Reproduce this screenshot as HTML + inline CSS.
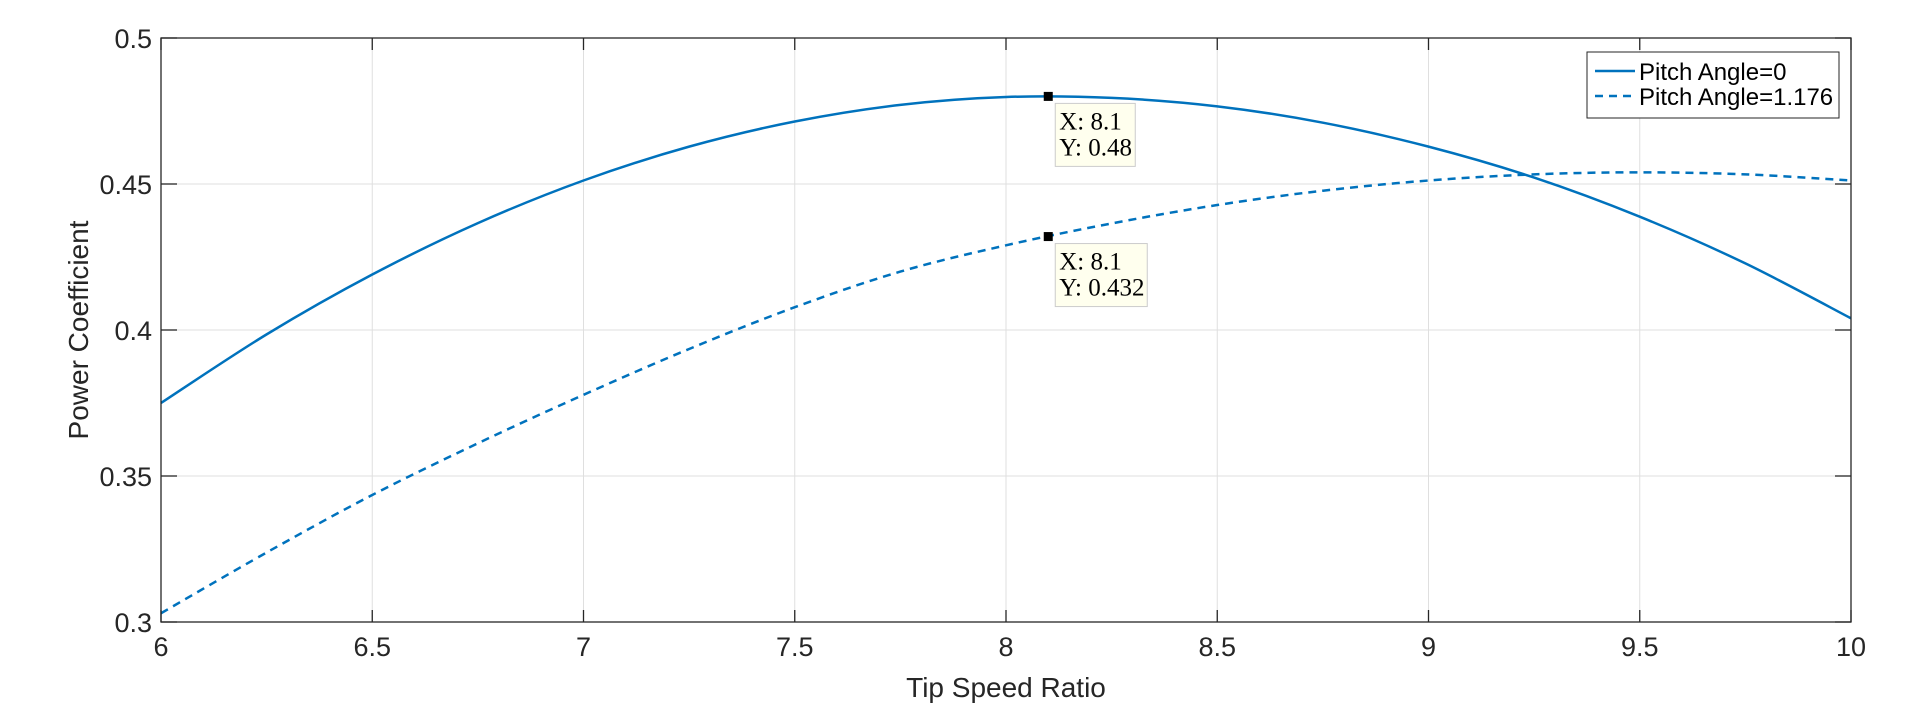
<!DOCTYPE html>
<html><head><meta charset="utf-8"><style>
html,body{margin:0;padding:0;background:#fff;}
svg{display:block;font-family:"Liberation Sans",sans-serif;}
</style></head><body>
<svg id="chart" width="1920" height="704" viewBox="0 0 1920 704" xmlns="http://www.w3.org/2000/svg">
<rect x="0" y="0" width="1920" height="704" fill="#fff"/>
<g id="grid"></g>
<g id="series"></g>
<rect x="161" y="38" width="1690" height="584" fill="none" stroke="#262626" stroke-width="1.3"/>
<g id="ticks"></g>
<text x="1006" y="697" font-size="28" fill="#262626" text-anchor="middle">Tip Speed Ratio</text>
<text transform="translate(88,330) rotate(-90)" font-size="28" fill="#262626" text-anchor="middle">Power Coefficient</text>
<g>
<rect x="1587" y="52" width="252" height="66" fill="#fff" stroke="#262626" stroke-width="1"/>
<line x1="1595" y1="71" x2="1635" y2="71" stroke="#0072BD" stroke-width="2.5"/>
<text x="1639" y="80" font-size="24" fill="#000">Pitch Angle=0</text>
<line x1="1595" y1="96" x2="1635" y2="96" stroke="#0072BD" stroke-width="2.5" stroke-dasharray="8,6"/>
<text x="1639" y="105" font-size="24" fill="#000">Pitch Angle=1.176</text>
</g>
<g id="tips"></g>
</svg>
<script>
const xs = [6,6.25,6.5,6.75,7,7.25,7.5,7.75,8,8.25,8.5,8.75,9,9.25,9.5,9.75,10];
const cpPitch0 = [0.375,0.3985,0.419,0.4366,0.4512,0.4628,0.4714,0.4771,0.4798,0.4795,0.4766,0.4710,0.4628,0.4522,0.4388,0.4228,0.404];
const cpPitch1176 = [0.303,0.3238,0.3435,0.3612,0.3778,0.3935,0.4078,0.4200,0.4290,0.4365,0.4428,0.4477,0.4512,0.4533,0.454,0.4533,0.4512];
const xTicks = [6,6.5,7,7.5,8,8.5,9,9.5,10];
const xTickLabels = ["6","6.5","7","7.5","8","8.5","9","9.5","10"];
const yTicks = [0.3,0.35,0.4,0.45,0.5];
const yTickLabels = ["0.3","0.35","0.4","0.45","0.5"];
const tipX = [8.1, 8.1];
const tipY = [0.48, 0.432];
const tipLabelY = ["0.48","0.432"];

const L=161,R=1851,T=38,B=622;
const sx=v=>L+(v-6)/(10-6)*(R-L);
const sy=v=>B-(v-0.3)/(0.5-0.3)*(B-T);
const NS="http://www.w3.org/2000/svg";
function mk(tag,attrs,parent){const e=document.createElementNS(NS,tag);for(const k in attrs)e.setAttribute(k,attrs[k]);parent.appendChild(e);return e;}
const grid=document.getElementById('grid'),ticks=document.getElementById('ticks'),series=document.getElementById('series'),tips=document.getElementById('tips');
xTicks.forEach((v,i)=>{
  const x=sx(v);
  if(i>0&&i<xTicks.length-1){const g=mk('line',{x1:x,y1:T,x2:x,y2:B,stroke:'#dfdfdf','stroke-width':1},grid);
  
  }
  const t1=mk('line',{x1:x,y1:B,x2:x,y2:B-12,stroke:'#262626','stroke-width':1.3},ticks);
  
  
  const t2=mk('line',{x1:x,y1:T,x2:x,y2:T+12,stroke:'#262626','stroke-width':1.3},ticks);
  
  
  const tx=mk('text',{x:x,y:B+34,'font-size':27,fill:'#262626','text-anchor':'middle'},ticks);
  tx.textContent=xTickLabels[i];
  
  
});
yTicks.forEach((v,i)=>{
  const y=sy(v);
  if(i>0&&i<yTicks.length-1){const g=mk('line',{x1:L,y1:y,x2:R,y2:y,stroke:'#dfdfdf','stroke-width':1},grid);
  
  }
  const t1=mk('line',{x1:L,y1:y,x2:L+16,y2:y,stroke:'#262626','stroke-width':1.3},ticks);
  
  
  const t2=mk('line',{x1:R,y1:y,x2:R-16,y2:y,stroke:'#262626','stroke-width':1.3},ticks);
  
  
  const tx=mk('text',{x:L-9,y:y+10,'font-size':27,fill:'#262626','text-anchor':'end'},ticks);
  tx.textContent=yTickLabels[i];
  
  
});
function path(vals){
  const p=xs.map((x,i)=>[sx(x),sy(vals[i])]);
  let d='M'+p[0][0]+','+p[0][1];
  for(let i=0;i<p.length-1;i++){
    const p0=p[Math.max(i-1,0)],p1=p[i],p2=p[i+1],p3=p[Math.min(i+2,p.length-1)];
    d+=' C'+(p1[0]+(p2[0]-p0[0])/6)+','+(p1[1]+(p2[1]-p0[1])/6)+' '+(p2[0]-(p3[0]-p1[0])/6)+','+(p2[1]-(p3[1]-p1[1])/6)+' '+p2[0]+','+p2[1];
  }
  return d;
}
const s1=mk('path',{d:path(cpPitch0),fill:'none',stroke:'#0072BD','stroke-width':2.5},series);


const s2=mk('path',{d:path(cpPitch1176),fill:'none',stroke:'#0072BD','stroke-width':2.5,'stroke-dasharray':'8,6'},series);


tipX.forEach((v,i)=>{
  const x=sx(v),y=sy(tipY[i]);
  const m=mk('rect',{x:x-4.5,y:y-4.5,width:9,height:9,fill:'#000'},tips);
  
  
  const w=i===0?80:92;
  const b=mk('rect',{x:x+7,y:y+7,width:w,height:63,fill:'#ffffee',stroke:'#cccccc','stroke-width':1},tips);
  
  
  const t1=mk('text',{x:x+11,y:y+33,'font-size':25,fill:'#000','font-family':'Liberation Serif, serif'},tips);
  t1.textContent='X: '+v;
  
  
  const t2=mk('text',{x:x+11,y:y+59,'font-size':25,fill:'#000','font-family':'Liberation Serif, serif'},tips);
  t2.textContent='Y: '+tipLabelY[i];
  
  
});
</script>
</body></html>
